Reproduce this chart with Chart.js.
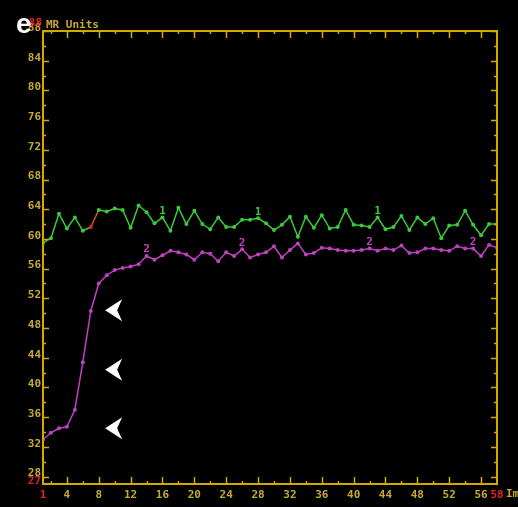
<!DOCTYPE html>
<html>
<head>
<meta charset="utf-8">
<script src="https://cdn.jsdelivr.net/npm/chart.js@4"></script>
<style>
  html, body { margin: 0; padding: 0; background: #000; }
  canvas { display: block; }
</style>
</head>
<body>
<canvas id="mrChart" width="518" height="507"></canvas>
<script>
// frame numbers (x axis)
const frames = [1, 2, 3, 4, 5, 6, 7, 8, 9, 10, 11, 12, 13, 14, 15, 16, 17, 18, 19, 20,
  21, 22, 23, 24, 25, 26, 27, 28, 29, 30, 31, 32, 33, 34, 35, 36, 37, 38, 39, 40,
  41, 42, 43, 44, 45, 46, 47, 48, 49, 50, 51, 52, 53, 54, 55, 56, 57, 58];

// curve 1 (green)
const curve1 = [59.5, 60.1, 63.4, 61.4, 62.9, 61.1, 61.6, 63.9, 63.7, 64.1,
  63.9, 61.5, 64.5, 63.6, 62.1, 62.9, 61.1, 64.2, 62.0, 63.8,
  62.0, 61.3, 62.9, 61.6, 61.6, 62.6, 62.6, 62.8, 62.1, 61.2,
  61.9, 63.0, 60.3, 63.0, 61.5, 63.2, 61.4, 61.6, 63.9, 61.9,
  61.8, 61.6, 62.9, 61.3, 61.6, 63.1, 61.2, 62.9, 62.0, 62.8,
  60.1, 61.8, 61.9, 63.8, 61.9, 60.5, 62.0, 62.0];

// curve 2 (magenta)
const curve2 = [33.0, 33.9, 34.5, 34.7, 37.0, 43.4, 50.3, 54.0, 55.1, 55.8,
  56.1, 56.3, 56.6, 57.7, 57.2, 57.8, 58.4, 58.2, 57.9, 57.2,
  58.2, 58.0, 57.0, 58.2, 57.7, 58.6, 57.5, 57.9, 58.2, 59.0,
  57.5, 58.5, 59.4, 57.9, 58.1, 58.8, 58.7, 58.5, 58.4, 58.4,
  58.5, 58.7, 58.4, 58.7, 58.5, 59.1, 58.1, 58.2, 58.7, 58.7,
  58.5, 58.4, 59.0, 58.7, 58.7, 57.7, 59.2, 58.8];

// tick labels
const yTicks = [27, 28, 32, 36, 40, 44, 48, 52, 56, 60, 64, 68, 72, 76, 80, 84, 88];
const xTicks = [1, 4, 8, 12, 16, 20, 24, 28, 32, 36, 40, 44, 48, 52, 56, 58];

// curve markers and arrowheads
const marks1 = [16, 28, 43];
const marks2 = [14, 26, 42, 55];
const arrowX = 8.8;
const arrowY = [50.4, 42.4, 34.5];

const GOLD = '#d2aa00';
const LABEL = '#c8aa30';
const RED = '#e82020';
const GREEN = '#3cc83c';
const MAGENTA = '#c040c0';
const FONT = 'DejaVu Sans Mono';

const framePlugin = {
  id: 'mrFrame',
  afterDraw(chart) {
    const { ctx, chartArea: a, scales } = chart;
    const xs = scales.x, ys = scales.y;
    ctx.save();

    // frame
    ctx.strokeStyle = GOLD;
    ctx.lineWidth = 2;
    ctx.strokeRect(a.left, a.top, a.right - a.left, a.bottom - a.top);

    // inward tick marks
    ctx.lineWidth = 1.5;
    ctx.beginPath();
    for (let v = 28; v <= 88; v += 2) {
      const y = Math.round(ys.getPixelForValue(v)) + 0.5;
      const len = v % 4 === 0 ? 6 : 3;
      ctx.moveTo(a.left, y); ctx.lineTo(a.left + len, y);
      ctx.moveTo(a.right, y); ctx.lineTo(a.right - len, y);
    }
    for (let v = 2; v < 58; v += 2) {
      const x = Math.round(xs.getPixelForValue(v)) + 0.5;
      const len = v % 4 === 0 ? 7 : 3;
      ctx.moveTo(x, a.bottom); ctx.lineTo(x, a.bottom - len);
      ctx.moveTo(x, a.top); ctx.lineTo(x, a.top + len);
    }
    ctx.stroke();

    // header texts
    ctx.font = 'bold 11px ' + FONT;
    ctx.textBaseline = 'middle';
    ctx.fillStyle = LABEL;
    ctx.textAlign = 'left';
    ctx.fillText('MR Units', a.left + 3, 25);
    ctx.fillText('Im', a.right + 9, 494);
    ctx.fillStyle = RED;
    ctx.textAlign = 'right';
    ctx.fillText('88', a.left - 1, 23);

    // curve markers
    ctx.font = 'bold 11px ' + FONT;
    ctx.textAlign = 'center';
    ctx.textBaseline = 'bottom';
    ctx.fillStyle = GREEN;
    marks1.forEach(f => {
      ctx.fillText('1', xs.getPixelForValue(f), ys.getPixelForValue(curve1[f - 1]) - 1);
    });
    ctx.fillStyle = MAGENTA;
    marks2.forEach(f => {
      ctx.fillText('2', xs.getPixelForValue(f), ys.getPixelForValue(curve2[f - 1]) - 1);
    });

    // white arrowheads
    ctx.fillStyle = '#ffffff';
    arrowY.forEach(v => {
      const tx = xs.getPixelForValue(arrowX);
      const ty = ys.getPixelForValue(v);
      ctx.beginPath();
      ctx.moveTo(tx, ty);
      ctx.lineTo(tx + 17, ty - 11);
      ctx.lineTo(tx + 12, ty);
      ctx.lineTo(tx + 17, ty + 11);
      ctx.closePath();
      ctx.fill();
    });

    // panel letter
    ctx.font = 'bold 28px "Liberation Sans", Arial';
    ctx.textAlign = 'left';
    ctx.textBaseline = 'alphabetic';
    ctx.fillText('e', 16, 33);
    ctx.restore();
  }
};

new Chart(document.getElementById('mrChart'), {
  type: 'line',
  data: {
    datasets: [{
      label: '1',
      data: frames.map((f, i) => ({ x: f, y: curve1[i] })),
      borderColor: GREEN,
      borderWidth: 1.5,
      pointRadius: 2,
      pointBorderWidth: 0,
      pointBackgroundColor: ctx => ctx.dataIndex === 6 ? RED : GREEN,
      segment: { borderColor: ctx => ctx.p0DataIndex === 6 ? '#e05020' : undefined },
      tension: 0
    }, {
      label: '2',
      data: frames.map((f, i) => ({ x: f, y: curve2[i] })),
      borderColor: MAGENTA,
      borderWidth: 1.5,
      pointRadius: 2,
      pointBorderWidth: 0,
      pointBackgroundColor: MAGENTA,
      tension: 0
    }]
  },
  options: {
    responsive: false,
    animation: false,
    devicePixelRatio: 1,
    layout: { padding: { top: 31, right: 21, left: 0, bottom: 0 } },
    plugins: { legend: { display: false }, tooltip: { enabled: false } },
    scales: {
      x: {
        type: 'linear',
        min: 1,
        max: 58,
        afterFit: s => { s.height = 23; },
        afterBuildTicks: s => { s.ticks = xTicks.map(v => ({ value: v })); },
        grid: { display: false, drawTicks: false },
        border: { display: false },
        ticks: {
          autoSkip: false,
          maxRotation: 0,
          padding: 5,
          font: { family: FONT, size: 11, weight: 'bold' },
          color: ctx => (ctx.tick.value === 1 || ctx.tick.value === 58) ? RED : LABEL
        }
      },
      y: {
        min: 27,
        max: 88,
        afterFit: s => { s.width = 43; },
        afterBuildTicks: s => { s.ticks = yTicks.map(v => ({ value: v })); },
        grid: { display: false, drawTicks: false },
        border: { display: false },
        ticks: {
          autoSkip: false,
          padding: 2,
          labelOffset: -3,
          font: { family: FONT, size: 11, weight: 'bold' },
          color: ctx => ctx.tick.value === 27 ? RED : LABEL
        }
      }
    }
  },
  plugins: [framePlugin]
});
</script>
</body>
</html>
